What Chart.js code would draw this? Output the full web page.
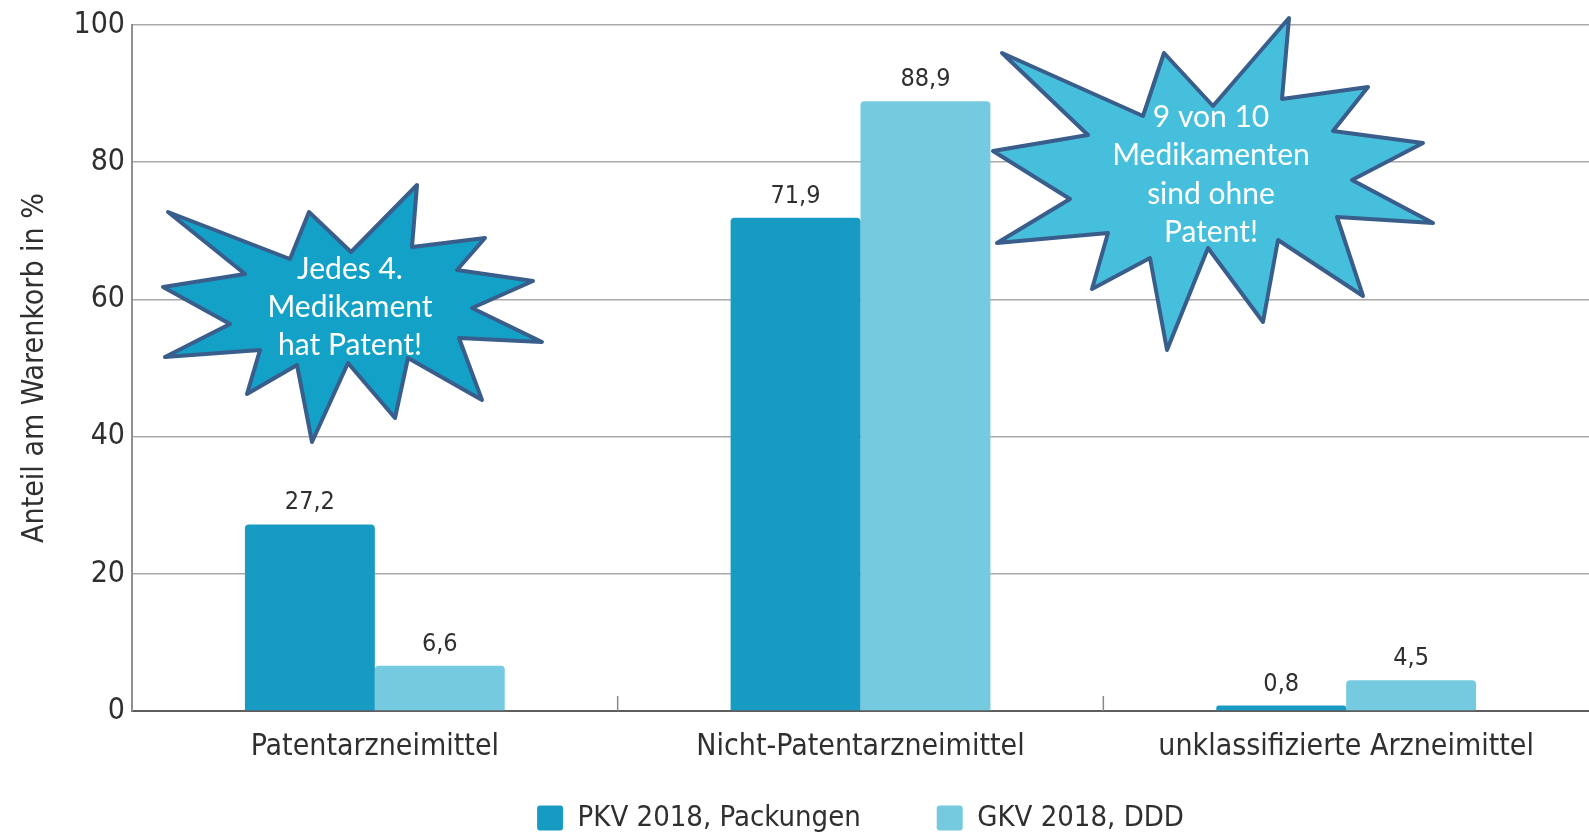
<!DOCTYPE html>
<html>
<head>
<meta charset="utf-8">
<script src="https://cdn.jsdelivr.net/npm/chart.js@4.4.1/dist/chart.umd.min.js"></script>
<style>
  html, body { margin: 0; padding: 0; background: #ffffff; }
  #wrap { width: 1589px; height: 837px; }
</style>
</head>
<body>
<div id="wrap"><canvas id="c" width="1589" height="837"></canvas></div>
<script>
// ---- data ----
const categories = ['Patentarzneimittel', 'Nicht-Patentarzneimittel', 'unklassifizierte Arzneimittel'];
const seriesNames = ['PKV 2018, Packungen', 'GKV 2018, DDD'];
const pkvValues = [27.2, 71.9, 0.8];
const gkvValues = [6.6, 88.9, 4.5];
const yTickValues = [0, 20, 40, 60, 80, 100];
const yTitle = 'Anteil am Warenkorb in %';
const callout1Lines = ['Jedes 4.', 'Medikament', 'hat Patent!'];
const callout2Lines = ['9 von 10', 'Medikamenten', 'sind ohne', 'Patent!'];

// ---- styles ----
const FAM = "'Liberation Sans Narrow', 'DejaVu Sans Condensed', sans-serif";
const TXT = '#2f2f2f';
const C_PKV = '#189bc3';
const C_GKV = '#76cadf';

// decorative starburst outlines (pixel geometry of the callouts)
const star1 = [[168,212],[290,259],[309,212],[351,252],[417,185],[412,247],[485,238],[457,270],[533,281],[472,308],[542,342],[459,338],[482,400],[408,358],[395,418],[348,363],[312,442],[297,365],[247,394],[260,350],[165,357],[230,324],[163,287],[245,274]];
const star1Text = { x: 350, y: 269, dy: 38 };
const star2 = [[1002,53],[1143,116],[1164,53],[1213,106],[1289,18],[1282,99],[1368,87],[1333,131],[1423,143],[1352,180],[1433,223],[1337,217],[1363,296],[1278,240],[1263,322],[1208,248],[1167,350],[1150,258],[1092,289],[1108,233],[997,243],[1070,199],[993,151],[1088,135]];
const star2Text = { x: 1211, y: 117, dy: 38.5 };

const fmt = v => v.toFixed(1).replace('.', ',');

const valueLabels = {
  id: 'valueLabels',
  afterDatasetsDraw(chart) {
    const ctx = chart.ctx;
    ctx.save();
    ctx.font = '25px ' + FAM;
    ctx.fillStyle = TXT;
    ctx.textAlign = 'center';
    ctx.textBaseline = 'alphabetic';
    chart.data.datasets.forEach((ds, di) => {
      const meta = chart.getDatasetMeta(di);
      meta.data.forEach((el, i) => {
        ctx.fillText(fmt(ds.data[i]), el.x, el.y - 15);
      });
    });
    ctx.restore();
  }
};

const catTicks = {
  id: 'catTicks',
  afterLayout(chart) {
    // let the category labels extend below the (compact) x-axis box
    chart.scales.x._computeLabelArea = function () { return null; };
  },
  afterDatasetsDraw(chart) {
    const xs = chart.scales.x;
    const ctx = chart.ctx;
    const b = chart.chartArea.bottom;
    ctx.save();
    ctx.strokeStyle = '#8a8a8a';
    ctx.lineWidth = 1.5;
    for (let i = 1; i < categories.length; i++) {
      const px = (xs.getPixelForValue(i - 1) + xs.getPixelForValue(i)) / 2;
      ctx.beginPath();
      ctx.moveTo(px, b);
      ctx.lineTo(px, b - 15);
      ctx.stroke();
    }
    ctx.restore();
  }
};

function drawStar(ctx, pts, fill, lines, t) {
  ctx.save();
  ctx.beginPath();
  pts.forEach((p, i) => i ? ctx.lineTo(p[0], p[1]) : ctx.moveTo(p[0], p[1]));
  ctx.closePath();
  ctx.fillStyle = fill;
  ctx.fill();
  ctx.lineJoin = 'round';
  ctx.lineWidth = 4;
  ctx.strokeStyle = '#3a5e8c';
  ctx.stroke();
  ctx.fillStyle = '#ffffff';
  ctx.font = '30px Lato, "Open Sans", sans-serif';
  ctx.textAlign = 'center';
  ctx.textBaseline = 'middle';
  lines.forEach((s, i) => ctx.fillText(s, t.x, t.y + i * t.dy));
  ctx.restore();
}

const callouts = {
  id: 'callouts',
  afterDraw(chart) {
    const ctx = chart.ctx;
    drawStar(ctx, star1, '#13a1c7', callout1Lines, star1Text);
    drawStar(ctx, star2, '#46bfdc', callout2Lines, star2Text);
  }
};

new Chart(document.getElementById('c'), {
  type: 'bar',
  data: {
    labels: categories,
    datasets: [
      { label: seriesNames[0], data: pkvValues, backgroundColor: C_PKV, borderWidth: 0,
        borderRadius: { topLeft: 4, topRight: 4 }, borderSkipped: 'bottom' },
      { label: seriesNames[1], data: gkvValues, backgroundColor: C_GKV, borderWidth: 0,
        borderRadius: { topLeft: 4, topRight: 4 }, borderSkipped: 'bottom' }
    ]
  },
  options: {
    responsive: false,
    devicePixelRatio: 1,
    animation: false,
    layout: { padding: { top: 19, right: 0, left: 0, bottom: -5.5 } },
    datasets: { bar: { barPercentage: 1.0, categoryPercentage: 0.535 } },
    plugins: {
      tooltip: { enabled: false },
      legend: {
        position: 'bottom',
        fullSize: false,
        labels: {
          boxWidth: 26, boxHeight: 25, padding: 76,
          useBorderRadius: true, borderRadius: 3,
          color: TXT,
          font: { family: FAM, size: 29 }
        }
      }
    },
    scales: {
      x: {
        grid: { display: false, drawTicks: false },
        border: { display: true, color: '#5e5e5e', width: 2 },
        ticks: { color: TXT, padding: 18, autoSkip: false, maxRotation: 0, minRotation: 0,
                 font: { family: FAM, size: 30 } },
        afterFit(s) { s.height = 16.5; }
      },
      y: {
        min: 0, max: 100,
        afterBuildTicks(s) { s.ticks = yTickValues.map(v => ({ value: v })); },
        grid: { color: '#a9a9a9', lineWidth: 1.5, drawTicks: false },
        border: { display: true, color: '#8f8f8f', width: 2 },
        ticks: { color: TXT, padding: 7, font: { family: FAM, size: 30 } },
        title: { display: true, text: yTitle, color: TXT, font: { family: FAM, size: 30 }, padding: { top: 17, bottom: 0 } },
        afterFit(s) { s.width = 132; }
      }
    }
  },
  plugins: [valueLabels, catTicks, callouts]
});
</script>
</body>
</html>
